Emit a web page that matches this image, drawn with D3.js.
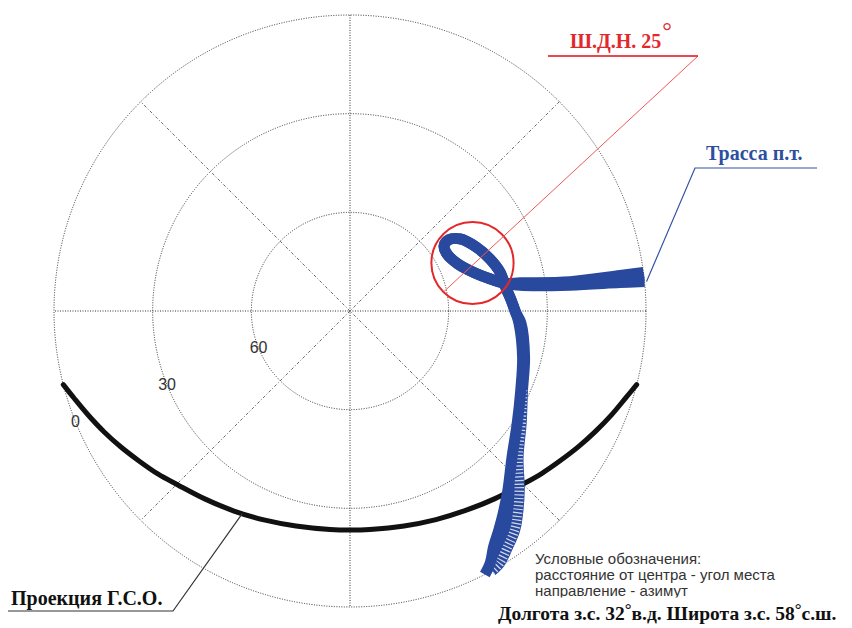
<!DOCTYPE html>
<html>
<head>
<meta charset="utf-8">
<script src="https://cdn.jsdelivr.net/npm/d3@7"></script>
<style>
  body { margin: 0; background: #fff; }
  svg { display: block; }
</style>
</head>
<body>
<svg id="chart" width="852" height="628"></svg>
<script>
// Elevation rings (degrees) and their labels
const ringValues = [0, 30, 60];
const ringLabelAz = 248;
const spokeAngles = [0, 45, 90, 135];

// Geostationary orbit projection: azimuth / elevation, degrees
const gsoAz = [255.6, 252.5, 248.4, 243.8, 239.3, 234.6, 229.7, 224.7, 217.7, 210.1, 202.4, 194.1, 185.2, 180,
               174.8, 165.9, 157.6, 149.9, 142.3, 135.3, 130.3, 125.4, 120.7, 116.2, 111.6, 107.5, 104.4];
const gsoEl = [0, 2.0, 4.3, 6.7, 9.0, 11.3, 13.4, 15.6, 17.8, 19.7, 21.3, 22.6, 23.3, 23.4,
               23.3, 22.6, 21.4, 19.9, 17.9, 15.7, 13.6, 11.5, 9.2, 6.9, 4.4, 2.1, 0];

// Satellite track bundle: first and last pass (azimuth / elevation, degrees)
const trackAAz = [82.5, 82.5, 82.4, 80.6,
                  80.0, 77.5, 73.1, 66.5, 59.6, 55.3, 54.2, 56.8, 63.1, 69.6, 75.4, 82.0, 86.1, 90.3,
                  94.1, 104.9, 114.8, 123.8, 132.0, 138.6, 142.8, 145.8, 148.7, 150.9, 152.9];
const trackAEl = [0, 7.2, 22.5, 37.6,
                  41.8, 45.8, 50.3, 54.2, 55.8, 55.2, 52.9, 50.0, 47.0, 44.6, 42.9, 42.0, 40.9, 39.7,
                  38.5, 35.7, 32.8, 28.8, 23.7, 17.4, 12.9, 9.5, 6.0, 2.3, 0];
const trackBAz = [84.3, 84.0, 83.3, 81.4,
                  80.0, 77.5, 73.1, 66.5, 59.6, 55.3, 54.2, 56.8, 63.1, 69.6, 75.4, 82.0, 86.1, 90.3,
                  94.0, 104.8, 114.6, 123.2, 131.0, 136.6, 140.3, 143.05, 146.3, 149.3, 151.4];
const trackBEl = [0, 7.45, 22.65, 37.7,
                  41.8, 45.8, 50.3, 54.2, 55.8, 55.2, 52.9, 50.0, 47.0, 44.6, 42.9, 42.0, 40.9, 39.7,
                  37.9, 35.1, 32.3, 27.8, 22.3, 15.1, 10.2, 6.7, 3.7, 0.9, 0];

// Antenna beam: pointing direction and beam width, degrees
const beamAz = 68.6;
const beamEl = 50;
const beamWidth = 25;

// Site coordinates
const siteLon = 32;
const siteLat = 58;

// Label anchor on the GSO arc
const gsoLabelAz = 208, gsoLabelEl = 20.2;

const cx = 350, cy = 311, R = 296;
const svg = d3.select('#chart');

const rScale = d3.scaleLinear().domain([90, 0]).range([0, R]);
const aScale = d3.scaleLinear().domain([0, 360]).range([0, 2 * Math.PI]);

function project(az, el) {
  const a = aScale(az), r = rScale(el);
  return [cx + r * Math.sin(a), cy - r * Math.cos(a)];
}

const g = svg.append('g').attr('transform', `translate(${cx},${cy})`);

// grid rings
g.selectAll('circle.ring')
  .data(ringValues)
  .join('circle')
  .attr('class', 'ring')
  .attr('r', d => rScale(d))
  .attr('fill', 'none')
  .attr('stroke', '#333')
  .attr('stroke-width', 1)
  .attr('stroke-dasharray', '1 1.5');

// spokes
g.selectAll('line.spoke')
  .data(spokeAngles)
  .join('line')
  .attr('class', 'spoke')
  .each(function (d) {
    const a = aScale(d), r = rScale(0);
    d3.select(this)
      .attr('x1', r * Math.sin(a)).attr('y1', -r * Math.cos(a))
      .attr('x2', -r * Math.sin(a)).attr('y2', r * Math.cos(a));
  })
  .attr('stroke', d => d % 90 === 0 ? '#333' : '#6a6a6a')
  .attr('stroke-width', 1)
  .attr('stroke-dasharray', d => d % 90 === 0 ? '1 1.5' : '3 2 1 2');

// ring labels
g.selectAll('text.ringlabel')
  .data(ringValues)
  .join('text')
  .attr('class', 'ringlabel')
  .attr('x', d => rScale(d) * Math.sin(aScale(ringLabelAz)))
  .attr('y', d => -rScale(d) * Math.cos(aScale(ringLabelAz)))
  .attr('text-anchor', 'middle')
  .attr('dominant-baseline', 'central')
  .attr('font-family', 'Liberation Sans, Arial, sans-serif')
  .attr('font-size', 16)
  .attr('fill', '#333')
  .text(d => d);

const radial = d3.lineRadial()
  .angle(d => aScale(d.az))
  .radius(d => rScale(d.el))
  .curve(d3.curveCatmullRom.alpha(0.5));

// GSO projection
const gso = gsoAz.map((az, i) => ({ az, el: gsoEl[i] }));
g.append('path')
  .attr('d', radial(gso))
  .attr('fill', 'none')
  .attr('stroke', '#111')
  .attr('stroke-width', 5)
  .attr('stroke-linecap', 'round')
  .attr('stroke-linejoin', 'round');

// Satellite track bundle
const blue = '#28499d';
const trackW = 11;
const trackA = trackAAz.map((az, i) => ({ az, el: trackAEl[i] }));
const trackB = trackBAz.map((az, i) => ({ az, el: trackBEl[i] }));
const pathA = radial(trackA);
const pathB = radial(trackB);
const pathBrev = radial(trackB.slice().reverse());
g.append('path')
  .attr('d', pathA + 'L' + pathBrev.slice(1) + 'Z')
  .attr('fill', blue)
  .attr('stroke', 'none');
g.append('path')
  .attr('d', pathB)
  .attr('fill', 'none')
  .attr('stroke', blue)
  .attr('stroke-width', trackW)
  .attr('stroke-linejoin', 'round');
// gaps between individual passes on the descending leg
g.append('path')
  .attr('d', radial(trackB.slice(20)))
  .attr('fill', 'none')
  .attr('stroke', '#fff')
  .attr('stroke-opacity', 0.8)
  .attr('stroke-width', 9.5)
  .attr('stroke-dasharray', '1.2 2.4');
g.append('path')
  .attr('d', pathA)
  .attr('fill', 'none')
  .attr('stroke', blue)
  .attr('stroke-width', trackW)
  .attr('stroke-linejoin', 'round');

// Antenna beam
const red = '#e3282c';
const beamR = rScale(90 - beamWidth / 2);
const [bx, by] = project(beamAz, beamEl);
svg.append('circle')
  .attr('cx', bx).attr('cy', by).attr('r', beamR)
  .attr('fill', 'none')
  .attr('stroke', red)
  .attr('stroke-width', 2);

// Beam label with leader
const beamLabelX = 570, beamLabelY = 48;
const ulineY = 56, ulineX1 = 548, ulineX2 = 698;
const leadStart = [bx - beamR * Math.SQRT1_2, by + beamR * Math.SQRT1_2];
svg.append('polyline')
  .attr('points', [leadStart, [ulineX2, ulineY], [ulineX1, ulineY]].map(p => p.join(',')).join(' '))
  .attr('fill', 'none')
  .attr('stroke', '#f0585a')
  .attr('stroke-width', 1);
svg.append('line')
  .attr('x1', ulineX1).attr('x2', ulineX2).attr('y1', ulineY).attr('y2', ulineY)
  .attr('stroke', red).attr('stroke-width', 1.5);
const beamText = svg.append('text')
  .attr('x', beamLabelX).attr('y', beamLabelY)
  .attr('font-family', 'Liberation Serif, Times New Roman, serif')
  .attr('font-weight', 'bold')
  .attr('font-size', 20)
  .attr('fill', red);
beamText.append('tspan').text(`Ш.Д.Н. ${beamWidth}`);
beamText.append('tspan')
  .attr('font-weight', 'normal')
  .attr('font-size', 24)
  .attr('dx', 1).attr('dy', -9)
  .text('°');

// Track label with leader
const [tx, ty] = project(trackBAz[0], trackBEl[0]);
svg.append('polyline')
  .attr('points', [[tx + 2, ty], [695, 168], [817, 168]].map(p => p.join(',')).join(' '))
  .attr('fill', 'none')
  .attr('stroke', '#3552a8')
  .attr('stroke-width', 1.2);
svg.append('text')
  .attr('x', 706).attr('y', 160)
  .attr('font-family', 'Liberation Serif, Times New Roman, serif')
  .attr('font-weight', 'bold')
  .attr('font-size', 20)
  .attr('fill', '#2d4f9f')
  .text('Трасса п.т.');

// GSO label with leader
const [gx, gy] = project(gsoLabelAz, gsoLabelEl);
svg.append('polyline')
  .attr('points', [[gx, gy], [173, 611], [8, 611]].map(p => p.join(',')).join(' '))
  .attr('fill', 'none')
  .attr('stroke', '#333')
  .attr('stroke-width', 1.2);
svg.append('text')
  .attr('x', 11).attr('y', 605)
  .attr('font-family', 'Liberation Serif, Times New Roman, serif')
  .attr('font-weight', 'bold')
  .attr('font-size', 20)
  .attr('fill', '#111')
  .text('Проекция Г.С.О.');

// Legend notes
svg.append('clipPath').attr('id', 'noteclip')
  .append('rect').attr('x', 0).attr('y', 0).attr('width', 852).attr('height', 597.5);
const notes = ['Условные обозначения:', 'расстояние от центра - угол места', 'направление - азимут'];
svg.append('g').attr('clip-path', 'url(#noteclip)')
  .selectAll('text')
  .data(notes)
  .join('text')
  .attr('x', 535)
  .attr('y', (d, i) => 564 + i * 16)
  .attr('font-family', 'Liberation Sans, Arial, sans-serif')
  .attr('font-size', 15)
  .attr('fill', '#333')
  .text(d => d);

// Site coordinates
const site = svg.append('text')
  .attr('x', 498).attr('y', 620)
  .attr('font-family', 'Liberation Serif, Times New Roman, serif')
  .attr('font-weight', 'bold')
  .attr('font-size', 19.5)
  .attr('fill', '#111');
site.append('tspan').text(`Долгота з.с. ${siteLon}`);
site.append('tspan').attr('dy', -5).attr('font-size', 17).text('°');
site.append('tspan').attr('dy', 5).text('в.д. Широта з.с. ' + siteLat);
site.append('tspan').attr('dy', -5).attr('font-size', 17).text('°');
site.append('tspan').attr('dy', 5).text('с.ш.');
</script>
</body>
</html>
